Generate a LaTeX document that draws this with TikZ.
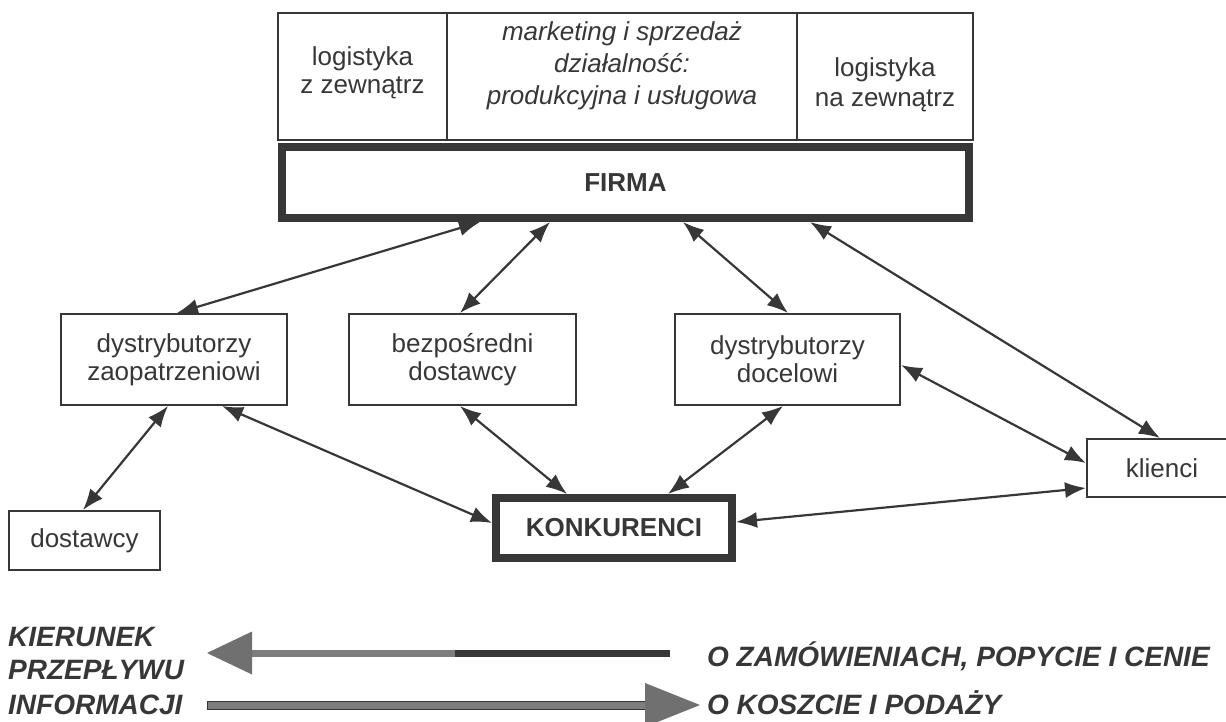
\documentclass[tikz,border=0pt]{standalone}
\usepackage{fontspec}
\setmainfont{Liberation Sans}
\usepackage{tikz}
\usepackage{xcolor}
\usetikzlibrary{arrows.meta}

\definecolor{tusz}{RGB}{55,55,55}
\definecolor{szary}{RGB}{125,125,125}

\begin{document}
\begin{tikzpicture}[
  x=1pt, y=-1pt,
  font=\fontsize{26}{28}\selectfont,
  text=tusz,
  blok/.style={draw=tusz, line width=2pt, align=center, inner sep=0pt},
  gruby/.style={draw=tusz, line width=8pt, inner sep=0pt, font=\fontsize{26}{28}\selectfont\bfseries},
  opis/.style={align=center, inner sep=0pt},
  strz/.style={draw=tusz, line width=2.2pt, {Latex[length=21pt,width=16pt]}-{Latex[length=21pt,width=16pt]}},
  leg/.style={font=\fontsize{28}{34}\selectfont\bfseries\itshape, inner sep=0pt, anchor=base west},
]
\useasboundingbox (0,0) rectangle (1226,721);
% gorny pas: dzialy firmy
\node[blok, minimum width=169pt, minimum height=127pt] (lz) at (362.5,76.5) {};
\node[opis] (lz-t) at ([yshift=4pt]lz.center) {logistyka\\z zewnątrz};
\node[blok, minimum width=350pt, minimum height=127pt] (mk) at (622,76.5) {};
\node[opis, font=\fontsize{26}{32}\selectfont\itshape] (mk-t) at ([yshift=11pt]mk.center) {marketing i sprzedaż\\działalność:\\produkcyjna i usługowa};
\node[blok, minimum width=176pt, minimum height=127pt] (lnz) at (885,76.5) {};
\node[opis, font=\fontsize{26}{30}\selectfont] (lnz-t) at ([yshift=-8pt]lnz.center) {logistyka\\na zewnątrz};
\node[gruby, minimum width=687pt, minimum height=71pt] (firma) at (625.5,182.5) {FIRMA};
% srodkowy rzad
\node[blok, minimum width=226pt, minimum height=91pt] (dz) at (174,359.5) {dystrybutorzy\\zaopatrzeniowi};
\node[blok, minimum width=227pt, minimum height=91pt] (bd) at (462.5,359.5) {bezpośredni\\dostawcy};
\node[blok, minimum width=225pt, minimum height=91pt] (dd) at (787.5,359.5) {dystrybutorzy\\docelowi};
% dolny rzad
\node[blok, minimum width=151pt, minimum height=59pt] (ds) at (84.5,540.5) {dostawcy};
\node[gruby, minimum width=236pt, minimum height=60pt] (ko) at (614,528) {KONKURENCI};
\node[blok, minimum width=150pt, minimum height=58pt] (kl) at (1162,468) {klienci};
% powiazania
\draw[strz] ([xshift=-145.5pt]firma.south) -- ([xshift=3pt]dz.north);
\draw[strz] ([xshift=-75.5pt]firma.south) -- ([xshift=-2.5pt]bd.north);
\draw[strz] ([xshift=57.5pt]firma.south) -- ([xshift=0.5pt]dd.north);
\draw[strz] ([xshift=184.5pt]firma.south) -- ([xshift=-2pt]kl.north);
\draw[strz] ([xshift=-6pt]dz.south) -- ([xshift=-1.5pt]ds.north);
\draw[strz] ([xshift=48pt]dz.south) -- ([yshift=5pt]ko.west);
\draw[strz] ([xshift=-2.5pt]bd.south) -- ([xshift=-47pt]ko.north);
\draw[strz] ([xshift=-4.5pt]dd.south) -- ([xshift=54pt]ko.north);
\draw[strz] ([yshift=-5.5pt]dd.east) -- ([yshift=5pt]kl.west);
\draw[strz] ([yshift=6pt]ko.east) -- ([yshift=-20pt]kl.west);
% legenda
\node[leg] (kier) at (8,646) {KIERUNEK};
\node[leg] (przep) at (8,679) {PRZEPŁYWU};
\node[leg] (inf) at (8,714) {INFORMACJI};
\node[leg] (zam) at (707,666) {O ZAMÓWIENIACH, POPYCIE I CENIE};
\node[leg] (kosz) at (707,714) {O KOSZCIE I PODAŻY};
% strzalka w lewo
\fill[szary] (252,649.5) rectangle (455,656.5);
\fill[tusz] (455,649.5) rectangle (670,656.5);
\fill[szary!90!black] (207,653) -- (252,631.5) -- (252,674.5) -- cycle;
% strzalka w prawo
\filldraw[fill=szary, draw=tusz, line width=1pt] (207,701.5) rectangle (645,709.5);
\fill[szary!90!black] (700,705) -- (645,683) -- (645,727) -- cycle;
\end{tikzpicture}
\end{document}
